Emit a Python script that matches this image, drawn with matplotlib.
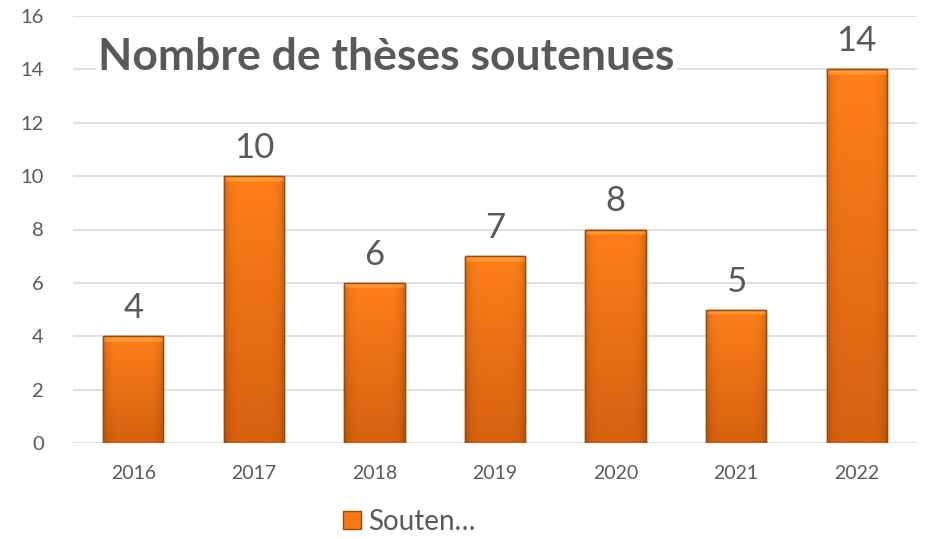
import numpy as np
import matplotlib.pyplot as plt
from matplotlib.patches import Patch

annees = ['2016', '2017', '2018', '2019', '2020', '2021', '2022']
theses = [4, 10, 6, 7, 8, 5, 14]
yticks = [0, 2, 4, 6, 8, 10, 12, 14, 16]

plt.rcParams['font.family'] = ['Lato', 'DejaVu Sans']
gris = '#595959'
bord = '#9C4A08'

fig = plt.figure(figsize=(9.27, 5.39), dpi=100)
ax = fig.add_axes([73 / 927, 96 / 539, 844 / 927, 427 / 539])

x = np.arange(len(annees))
barres = ax.bar(x, theses, width=0.5, color='#F57A14', edgecolor=bord, linewidth=1.0, zorder=2)

# degrade vertical + bords plus sombres (effet biseau)
haut = np.array([1.0, 0.50, 0.10])
bas = np.array([0.84, 0.38, 0.06])
cols = np.linspace(0, 1, 60)
cote = 1 - 0.18 * (np.abs(cols - 0.5) * 2) ** 6
for b in barres:
    x0, w, h = b.get_x(), b.get_width(), b.get_height()
    n = 200
    rows = np.linspace(0, 1, n)[:, None, None]
    img = haut * (1 - rows) + bas * rows
    img = img * cote[None, :, None]
    bande = int(n * 0.22 / h)
    img[:bande] = np.clip(img[:bande] + 0.10, 0, 1)
    im = ax.imshow(np.clip(img, 0, 1), extent=[x0, x0 + w, 0, h], aspect='auto', zorder=2.5,
                   interpolation='bilinear')
    im.set_clip_path(b)
    ax.bar(x0 + w / 2, h, width=w, fill=False, edgecolor=bord, linewidth=1.0, zorder=3)
    ax.text(x0 + w / 2, h + 0.45, str(int(h)), ha='center', va='bottom', fontsize=25, color=gris)

ax.set_xlim(-0.5, len(annees) - 0.5)
ax.set_ylim(0, 16)
ax.set_yticks(yticks)
ax.set_xticks(x)
ax.set_xticklabels(annees)
ax.tick_params(axis='x', length=0, labelsize=14, labelcolor=gris, pad=16)
ax.tick_params(axis='y', length=0, labelsize=14.5, labelcolor=gris, pad=21)
ax.grid(axis='y', color='#D9D9D9', linewidth=1.2, zorder=0)
for s in ax.spines.values():
    s.set_visible(False)

ax.text(0.03, 0.905, 'Nombre de thèses soutenues', transform=ax.transAxes, fontsize=32,
        fontweight='bold', color=gris, va='center', ha='left',
        bbox=dict(facecolor='white', edgecolor='none', pad=2))

fig.legend(handles=[Patch(facecolor='#F57A14', edgecolor=bord, label='Souten…')],
           loc='center', bbox_to_anchor=(0.441, 0.032), frameon=False, fontsize=20,
           labelcolor=gris, handlelength=0.65, handleheight=0.65, handletextpad=0.25)

fig.savefig('out.png', dpi=100)
